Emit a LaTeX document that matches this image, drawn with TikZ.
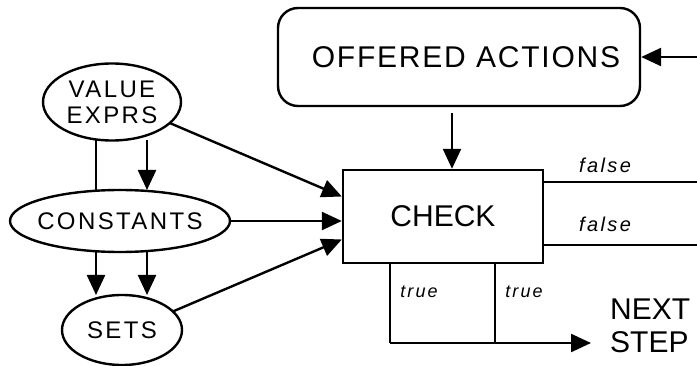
\documentclass[tikz,border=0pt]{standalone}
\usepackage{fontspec}
\usetikzlibrary{arrows.meta,shapes.geometric,calc}
\newfontfamily\plotwide[LetterSpace=10]{Liberation Sans}
\newfontfamily\plotlbl[LetterSpace=12]{Liberation Sans}
\newfontfamily\plotmid[LetterSpace=6]{Liberation Sans}
\newfontfamily\plotnorm{Liberation Sans}
\begin{document}
\begin{tikzpicture}[x=1pt,y=-1pt,
  line width=2.4pt,
  ell/.style={draw,ellipse,inner sep=0pt,outer sep=0pt,font=\plotwide\fontsize{24}{26}\selectfont,align=center},
  arr/.style={-{Triangle[length=20pt,width=18pt]}},
  lbl/.style={inner sep=0pt,font=\plotlbl\itshape\fontsize{20}{20}\selectfont},
  lbls/.style={inner sep=0pt,font=\plotlbl\itshape\fontsize{18}{18}\selectfont}]
\useasboundingbox (0,0) rectangle (697,366);
% nodes
\node[draw,rounded corners=20pt,minimum width=362pt,minimum height=98pt,inner sep=0pt,
      font=\plotmid\fontsize{30}{34}\selectfont] (offered) at (459,57) {\hspace*{14pt}\raisebox{-6pt}{OFFERED ACTIONS}};
\node[draw,minimum width=200pt,minimum height=93pt,inner sep=0pt,
      font=\plotnorm\fontsize{30}{34}\selectfont] (check) at (443,216.5) {CHECK};
\node[ell,minimum width=138pt,minimum height=77pt] (value) at (112,102)
      {\makebox[0pt]{VALUE}\\\makebox[0pt]{EXPRS}};
\node[ell,minimum width=220pt,minimum height=62pt] (const) at (120,221) {\makebox[0pt]{CONSTANTS}};
\node[ell,minimum width=120pt,minimum height=70pt] (sets) at (122,330) {\makebox[0pt]{SETS}};
\node[inner sep=0pt,anchor=west,align=left,font=\plotnorm\fontsize{30}{33}\selectfont] (next) at (609,326) {NEXT\\STEP};
\node[lbl] (f1) at (605,165) {false};
\node[lbl] (f2) at (605,224) {false};
\node[lbls] (t1) at (419,292) {true};
\node[lbls] (t2) at (524,292) {true};
% helper coordinates
\coordinate (inR) at (697,57);
\coordinate (fr1) at (697,182);
\coordinate (fr2) at (697,245);
\coordinate (xa) at (96,0);
\coordinate (xb) at (147,0);
\coordinate (xc) at (452,0);
\coordinate (tc1) at (390,343);
\coordinate (tc2) at (495,343);
% connectors
\draw[arr] (inR) -- (offered.east);
\draw[arr] (offered.south -| xc) ++(0,6) -- (check.north -| xc);
\draw (value.south -| xa) -- (const.north -| xa);
\draw[arr] (value.south -| xb) -- (const.north -| xb);
\draw[arr] (const.south -| xa) -- (sets.north -| xa);
\draw[arr] (const.south -| xb) -- (sets.north -| xb);
\draw[arr] (value.-20) -- ($(check.west)+(0,-20)$);
\draw[arr] (const.east) -- (const.east -| check.west);
\draw[arr] (sets.20) -- ($(check.west)+(0,23)$);
\draw (fr1 -| check.east) -- (fr1);
\draw (fr2 -| check.east) -- (fr2);
\draw (tc1 |- check.south) -- (tc1);
\draw (tc2 |- check.south) -- (tc2);
\draw[arr] (tc1) -- ($(tc1 -| next.west)+(-18,0)$);
\end{tikzpicture}
\end{document}
